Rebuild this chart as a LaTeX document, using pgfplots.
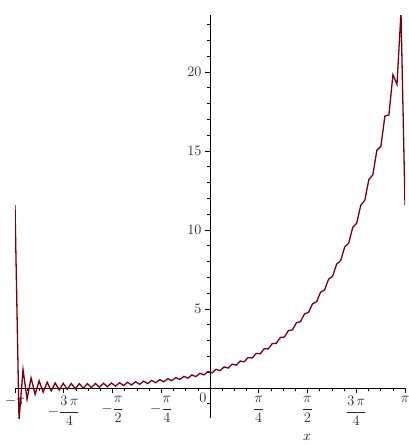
\documentclass[border=0pt]{standalone}
\usepackage{pgfplots}
\pgfplotsset{compat=1.18}
\definecolor{maple}{RGB}{120,0,14}

\pgfplotstableread{
x y
-3.1416 11.59
-3.0768 -2.024
-3.0120 1.169
-2.9473 -0.718
-2.8825 0.636
-2.8177 -0.405
-2.7529 0.454
-2.6882 -0.267
-2.6234 0.366
-2.5586 -0.185
-2.4938 0.320
-2.4291 -0.132
-2.3643 0.296
-2.2995 -0.087
-2.2347 0.282
-2.1700 -0.050
-2.1052 0.277
-2.0404 -0.016
-1.9756 0.278
-1.9109 0.015
-1.8461 0.285
-1.7813 0.047
-1.7165 0.297
-1.6518 0.079
-1.5870 0.314
-1.5222 0.112
-1.4574 0.335
-1.3926 0.149
-1.3279 0.362
-1.2631 0.188
-1.1983 0.395
-1.1335 0.231
-1.0688 0.432
-1.0040 0.279
-0.9392 0.477
-0.8744 0.332
-0.8097 0.528
-0.7449 0.393
-0.6801 0.588
-0.6153 0.460
-0.5506 0.657
-0.4858 0.536
-0.4210 0.734
-0.3562 0.622
-0.2915 0.825
-0.2267 0.720
-0.1619 0.928
-0.0971 0.830
-0.0324 1.045
0.0324 0.956
0.0971 1.179
0.1619 1.099
0.2267 1.332
0.2915 1.260
0.3562 1.506
0.4210 1.446
0.4858 1.705
0.5506 1.654
0.6153 1.930
0.6801 1.893
0.7449 2.188
0.8097 2.164
0.8744 2.483
0.9392 2.472
1.0040 2.816
1.0688 2.823
1.1335 3.198
1.1983 3.222
1.2631 3.631
1.3279 3.676
1.3926 4.126
1.4574 4.192
1.5222 4.688
1.5870 4.780
1.6518 5.329
1.7165 5.448
1.7813 6.060
1.8461 6.208
1.9109 6.892
1.9756 7.072
2.0404 7.840
2.1052 8.053
2.1700 8.922
2.2347 9.169
2.2995 10.156
2.3643 10.434
2.4291 11.568
2.4938 11.870
2.5586 13.179
2.6234 13.489
2.6882 15.039
2.7529 15.298
2.8177 17.203
2.8825 17.278
2.9473 19.823
3.0120 19.208
3.0768 23.758
3.1416 11.59
}\series

\begin{document}
\begin{tikzpicture}
\useasboundingbox (-15pt,-27pt) rectangle (394pt,418pt);
\begin{axis}[at={(0,0)}, anchor=south west,
  scale only axis, width=390pt, height=403pt,
  axis lines=middle, axis line style={-, black, line width=0.6pt},
  xmin=-3.14159, xmax=3.14159, ymin=-1.9, ymax=23.6,
  xtick={-3.14159,-2.35619,-1.5708,-0.7854,0.7854,1.5708,2.35619,3.14159},
  xticklabels={$-\pi$, $\displaystyle -\frac{3\,\pi}{4}$, $\displaystyle -\frac{\pi}{2}$, $\displaystyle -\frac{\pi}{4}$,
    $\displaystyle \frac{\pi}{4}$, $\displaystyle \frac{\pi}{2}$, $\displaystyle \frac{3\,\pi}{4}$, $\pi$},
  minor xtick={-2.94524,-2.7489,-2.55254,-2.15984,-1.9635,-1.76715,-1.37445,-1.1781,-0.98175,
    -0.58905,-0.3927,-0.19635,0,0.19635,0.3927,0.58905,0.98175,1.1781,1.37445,
    1.76715,1.9635,2.15984,2.55254,2.7489,2.94524},
  ytick={5,10,15,20},
  minor ytick={-1,1,2,3,4,6,7,8,9,11,12,13,14,16,17,18,19,21,22,23},
  extra y ticks={-0.65}, extra y tick labels={$0$},
  extra y tick style={major tick length=0pt},
  tick align=outside, major tick length=5pt, minor tick length=3pt,
  tick style={black, line width=0.6pt},
  tick label style={font=\Large, text=black!85},
  xlabel={$x$}, xlabel style={at={(axis description cs:0.749,-0.047)}, anchor=center, font=\Large},
  clip mode=individual]
\addplot[maple, line width=1.3pt] table[x=x, y=y] {\series};
\end{axis}
\end{tikzpicture}
\end{document}
